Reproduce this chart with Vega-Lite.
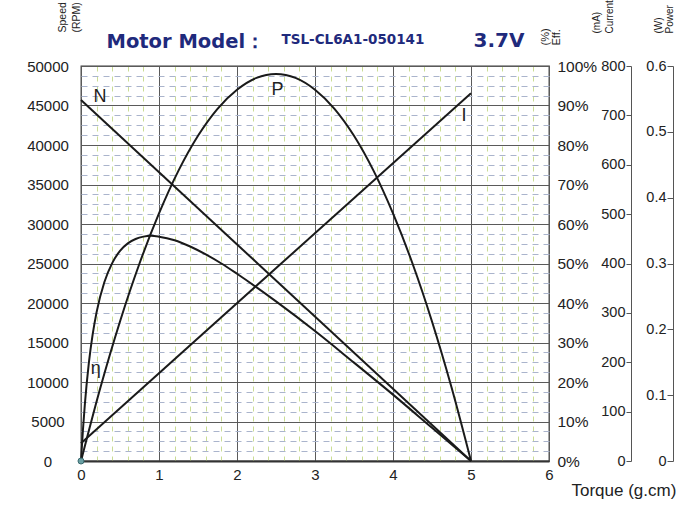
{
  "$schema": "https://vega.github.io/schema/vega-lite/v6.json",
  "width": 468,
  "height": 395,
  "autosize": {"type": "none"},
  "padding": {"left": 81, "top": 66, "right": 136, "bottom": 50},
  "background": "white",
  "config": {
    "view": {"stroke": "#3c3c3c", "strokeWidth": 1.3},
    "axis": {
      "labelFont": "Liberation Sans",
      "titleFont": "Liberation Sans",
      "labelColor": "#222222",
      "titleColor": "#222222",
      "titleFontWeight": "normal",
      "labelFlush": false,
      "labelOverlap": false
    }
  },
  "datasets": {
    "speed": [
      {"torque": 0, "speed": 45700},
      {"torque": 5, "speed": 0}
    ],
    "eff": [
      {"torque": 0, "eff": 0},
      {"torque": 0.025, "eff": 7.9},
      {"torque": 0.05, "eff": 14.5},
      {"torque": 0.1, "eff": 24.7},
      {"torque": 0.15, "eff": 32.1},
      {"torque": 0.2, "eff": 37.7},
      {"torque": 0.3, "eff": 45.3},
      {"torque": 0.4, "eff": 50.1},
      {"torque": 0.5, "eff": 53.2},
      {"torque": 0.6, "eff": 55.1},
      {"torque": 0.7, "eff": 56.2},
      {"torque": 0.8, "eff": 56.8},
      {"torque": 0.9, "eff": 57.0},
      {"torque": 1.0, "eff": 56.8},
      {"torque": 1.2, "eff": 55.9},
      {"torque": 1.4, "eff": 54.3},
      {"torque": 1.6, "eff": 52.3},
      {"torque": 1.8, "eff": 50.0},
      {"torque": 2.0, "eff": 47.4},
      {"torque": 2.5, "eff": 40.4},
      {"torque": 3.0, "eff": 32.9},
      {"torque": 3.5, "eff": 24.9},
      {"torque": 4.0, "eff": 16.8},
      {"torque": 4.5, "eff": 8.4},
      {"torque": 5.0, "eff": 0}
    ],
    "current": [
      {"torque": 0, "current": 36},
      {"torque": 5, "current": 745}
    ],
    "power": [
      {"torque": 0, "power": 0},
      {"torque": 0.25, "power": 0.112},
      {"torque": 0.5, "power": 0.212},
      {"torque": 0.75, "power": 0.3},
      {"torque": 1.0, "power": 0.376},
      {"torque": 1.25, "power": 0.441},
      {"torque": 1.5, "power": 0.494},
      {"torque": 1.75, "power": 0.535},
      {"torque": 2.0, "power": 0.564},
      {"torque": 2.25, "power": 0.582},
      {"torque": 2.5, "power": 0.588},
      {"torque": 2.75, "power": 0.582},
      {"torque": 3.0, "power": 0.564},
      {"torque": 3.25, "power": 0.535},
      {"torque": 3.5, "power": 0.494},
      {"torque": 3.75, "power": 0.441},
      {"torque": 4.0, "power": 0.376},
      {"torque": 4.25, "power": 0.3},
      {"torque": 4.5, "power": 0.212},
      {"torque": 4.75, "power": 0.112},
      {"torque": 5.0, "power": 0}
    ],
    "labels": [
      {"label": "N", "torque": 0.245, "speed": 46100},
      {"label": "P", "torque": 2.52, "speed": 46950},
      {"label": "I", "torque": 4.91, "speed": 43700},
      {"label": "η", "torque": 0.19, "speed": 11600}
    ],
    "origin": [
      {"torque": 0, "speed": 0}
    ]
  },
  "layer": [
    {
      "data": {"name": "labels"},
      "mark": {"type": "text", "fontSize": 18, "font": "Liberation Sans", "color": "#222222", "align": "center", "baseline": "middle"},
      "encoding": {
        "x": {
          "field": "torque", "type": "quantitative",
          "scale": {"domain": [0, 6], "nice": false, "zero": false},
          "axis": {
            "orient": "bottom",
            "values": [0.2,0.4,0.6,0.8,1.2,1.4,1.6,1.8,2.2,2.4,2.6,2.8,3.2,3.4,3.6,3.8,4.2,4.4,4.6,4.8,5.2,5.4,5.6,5.8],
            "grid": true, "gridColor": "#cadd95", "gridDash": [5, 5], "gridWidth": 1, "gridOpacity": 1,
            "labels": false, "ticks": false, "domain": false, "title": null
          }
        },
        "y": {
          "field": "speed", "type": "quantitative",
          "scale": {"domain": [0, 50000], "nice": false},
          "axis": {
            "orient": "left",
            "values": [1250,2500,3750,6250,7500,8750,11250,12500,13750,16250,17500,18750,21250,22500,23750,26250,27500,28750,31250,32500,33750,36250,37500,38750,41250,42500,43750,46250,47500,48750],
            "grid": true, "gridColor": "#aab4cc", "gridDash": [6, 5], "gridWidth": 1, "gridOpacity": 1,
            "labels": false, "ticks": false, "domain": false, "title": null
          }
        },
        "text": {"field": "label", "type": "nominal"}
      }
    },
    {
      "data": {"name": "speed"},
      "mark": {"type": "line", "color": "#1a1a1a", "strokeWidth": 2},
      "encoding": {
        "x": {
          "field": "torque", "type": "quantitative",
          "scale": {"domain": [0, 6], "nice": false, "zero": false},
          "axis": {
            "orient": "bottom",
            "values": [0, 1, 2, 3, 4, 5, 6],
            "grid": true, "gridColor": "#5a5a5a", "gridWidth": 1, "gridOpacity": 1,
            "labels": true, "labelFontSize": 15, "labelPadding": 6,
            "ticks": false, "domain": true, "domainColor": "#333333", "domainWidth": 2,
            "title": "Torque (g.cm)", "titleFont": "Liberation Sans", "titleFontSize": 17,
            "titleX": 490, "titleY": 34, "titleAlign": "left", "titleBaseline": "alphabetic", "titleAngle": 0
          }
        },
        "y": {
          "field": "speed", "type": "quantitative",
          "scale": {"domain": [0, 50000], "nice": false},
          "axis": {
            "orient": "left",
            "values": [0,5000,10000,15000,20000,25000,30000,35000,40000,45000,50000],
            "format": "d",
            "grid": true, "gridColor": "#5a5a5a", "gridWidth": 1, "gridOpacity": 1,
            "labels": true, "labelFontSize": 15, "labelAlign": "center", "labelPadding": 33.5, "labelBaseline": "middle",
            "ticks": false, "domain": false,
            "title": ["Speed", "(RPM)"], "titleFontSize": 10.5, "titleLineHeight": 14,
            "titleAngle": 270, "titleX": -24, "titleY": -34, "titleAlign": "left", "titleBaseline": "top"
          }
        }
      }
    },
    {
      "data": {"name": "eff"},
      "mark": {"type": "line", "color": "#1a1a1a", "strokeWidth": 2, "interpolate": "monotone"},
      "encoding": {
        "x": {
          "field": "torque", "type": "quantitative",
          "scale": {"domain": [0, 6], "nice": false, "zero": false},
          "axis": {
            "orient": "top", "grid": false, "labels": false, "ticks": false, "domain": false,
            "title": "TSL-CL6A1-050141", "titleFont": "DejaVu Sans", "titleFontWeight": "bold", "titleFontSize": 13.5,
            "titleColor": "#1f2a7c", "titleX": 200, "titleY": -23, "titleAlign": "left", "titleBaseline": "alphabetic", "titleAngle": 0
          }
        },
        "y": {
          "field": "eff", "type": "quantitative",
          "scale": {"domain": [0, 100], "nice": false},
          "axis": {
            "orient": "right",
            "values": [0,10,20,30,40,50,60,70,80,90,100],
            "labelExpr": "datum.value + '%'",
            "grid": false, "labels": true, "labelFontSize": 15.5, "labelAlign": "left", "labelPadding": 8, "labelBaseline": "middle",
            "ticks": false, "domain": false,
            "title": ["(%)", "Eff."], "titleFontSize": 11, "titleLineHeight": 11,
            "titleAngle": 270, "titleX": -10, "titleY": -21, "titleAlign": "left", "titleBaseline": "top"
          }
        }
      }
    },
    {
      "data": {"name": "current"},
      "mark": {"type": "line", "color": "#1a1a1a", "strokeWidth": 2},
      "encoding": {
        "x": {
          "field": "torque", "type": "quantitative",
          "scale": {"domain": [0, 6], "nice": false, "zero": false},
          "axis": {
            "orient": "top", "grid": false, "labels": false, "ticks": false, "domain": false,
            "title": "3.7V", "titleFont": "DejaVu Sans", "titleFontWeight": "bold", "titleFontSize": 20,
            "titleColor": "#1f2a7c", "titleX": 392, "titleY": -19.5, "titleAlign": "left", "titleBaseline": "alphabetic", "titleAngle": 0
          }
        },
        "y": {
          "field": "current", "type": "quantitative",
          "scale": {"domain": [0, 800], "nice": false},
          "axis": {
            "orient": "left", "offset": -550,
            "values": [0,100,200,300,400,500,600,700,800],
            "grid": false, "labels": true, "labelFontSize": 14.5, "labelAlign": "right", "labelPadding": 1, "labelBaseline": "middle",
            "ticks": true, "tickSize": 5, "tickColor": "#555555", "domain": true, "domainColor": "#555555",
            "title": ["(mA)", "Current"], "titleFontSize": 10, "titleLineHeight": 13,
            "titleAngle": 270, "titleX": -40, "titleY": -33, "titleAlign": "left", "titleBaseline": "top"
          }
        }
      }
    },
    {
      "data": {"name": "power"},
      "mark": {"type": "line", "color": "#1a1a1a", "strokeWidth": 2, "interpolate": "monotone"},
      "encoding": {
        "x": {
          "field": "torque", "type": "quantitative",
          "scale": {"domain": [0, 6], "nice": false, "zero": false},
          "axis": {
            "orient": "top", "grid": false, "labels": false, "ticks": false, "domain": false,
            "title": "Motor Model：", "titleFont": "DejaVu Sans", "titleFontWeight": "bold", "titleFontSize": 19.5,
            "titleColor": "#1f2a7c", "titleX": 25, "titleY": -19, "titleAlign": "left", "titleBaseline": "alphabetic", "titleAngle": 0
          }
        },
        "y": {
          "field": "power", "type": "quantitative",
          "scale": {"domain": [0, 0.6], "nice": false},
          "axis": {
            "orient": "left", "offset": -592,
            "values": [0,0.1,0.2,0.3,0.4,0.5,0.6],
            "format": "~g",
            "grid": false, "labels": true, "labelFontSize": 14.5, "labelAlign": "right", "labelPadding": 1, "labelBaseline": "middle",
            "ticks": true, "tickSize": 6, "tickColor": "#555555", "domain": true, "domainColor": "#555555",
            "title": ["(W)", "Power"], "titleFontSize": 10, "titleLineHeight": 11,
            "titleAngle": 270, "titleX": -20, "titleY": -33, "titleAlign": "left", "titleBaseline": "top"
          }
        }
      }
    },
    {
      "data": {"name": "origin"},
      "mark": {"type": "point", "filled": true, "size": 36, "color": "#6aa0a4", "stroke": "#3b6b70", "strokeWidth": 1, "opacity": 1},
      "encoding": {
        "x": {"field": "torque", "type": "quantitative", "scale": {"domain": [0, 6], "nice": false, "zero": false}, "axis": null},
        "y": {"field": "speed", "type": "quantitative", "scale": {"domain": [0, 50000], "nice": false}, "axis": null}
      }
    }
  ],
  "resolve": {
    "scale": {"y": "independent"},
    "axis": {"x": "independent", "y": "independent"}
  }
}
